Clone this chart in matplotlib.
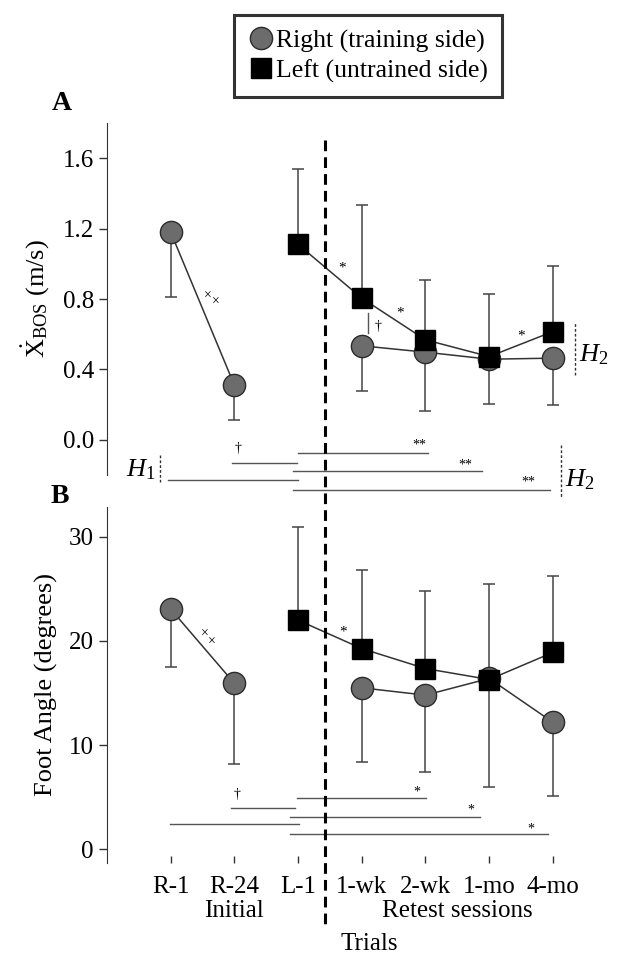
import matplotlib
matplotlib.use("Agg")
import matplotlib.pyplot as plt
from matplotlib.lines import Line2D

plt.rcParams['font.family'] = ['Liberation Serif', 'DejaVu Serif']
plt.rcParams['mathtext.fontset'] = 'custom'
plt.rcParams['mathtext.rm'] = 'Liberation Serif'
plt.rcParams['mathtext.it'] = 'Liberation Serif:italic'

# Trials (x positions 1..7)
trials = ["R-1", "R-24", "L-1", "1-wk", "2-wk", "1-mo", "4-mo"]
x_right_init = [1, 2]
x_left = [3, 4, 5, 6, 7]
x_right_ret = [4, 5, 6, 7]

# Panel A: XBOS (m/s)
a_right_init = [1.18, 0.31]
a_right_init_lo = [0.81, 0.11]
a_right_ret = [0.534, 0.498, 0.458, 0.464]
a_right_ret_lo = [0.278, 0.165, 0.205, 0.200]
a_left = [1.11, 0.805, 0.568, 0.473, 0.615]
a_left_hi = [1.54, 1.335, 0.909, 0.828, 0.99]

# Panel B: Foot angle (degrees)
b_right_init = [23.06, 15.93]
b_right_init_lo = [17.5, 8.16]
b_right_ret = [15.5, 14.8, 16.4, 12.19]
b_right_ret_lo = [8.35, 7.39, 6.0, 5.1]
b_left = [22.0, 19.27, 17.35, 16.3, 18.9]
b_left_hi = [30.96, 26.85, 24.8, 25.5, 26.25]

# significance brackets: (x_start, x_end, y, label, label_x, label_y)
a_brackets = [(1.96, 2.98, -0.129, "†", 2.05, -0.05),
              (0.96, 3.0, -0.227, "", 0, 0),
              (3.0, 5.04, -0.076, "**", 4.9, -0.03),
              (2.92, 5.89, -0.18, "**", 5.63, -0.145),
              (2.92, 6.95, -0.284, "**", 6.61, -0.24)]
b_brackets = [(1.94, 2.95, 3.99, "†", 2.04, 5.3),
              (0.99, 3.02, 2.40, "", 0, 0),
              (2.99, 5.01, 4.89, "*", 4.86, 5.5),
              (2.88, 5.86, 3.13, "*", 5.71, 3.75),
              (2.88, 6.92, 1.44, "*", 6.65, 1.9)]

gray = "#6c6c6c"
edge = "#2b2b2b"
linec = "#333333"
errc = "#444444"

fig = plt.figure(figsize=(6.21, 9.77), dpi=100)
axA = fig.add_axes([0.1723, 0.5138, 0.8206, 0.3603])
axB = fig.add_axes([0.1723, 0.1164, 0.8206, 0.365])


def draw_panel(ax, r_init, r_init_lo, r_ret, r_ret_lo, left, left_hi):
    # lower error bars for circles, upper for squares
    r_all_x = x_right_init + x_right_ret
    r_all = r_init + r_ret
    r_lo = r_init_lo + r_ret_lo
    ax.errorbar(r_all_x, r_all, yerr=[[v - lo for v, lo in zip(r_all, r_lo)], [0] * len(r_all)],
                fmt="none", ecolor=errc, elinewidth=1.1, capsize=4.5, capthick=1.1, zorder=1)
    ax.errorbar(x_left, left, yerr=[[0] * len(left), [hi - v for v, hi in zip(left, left_hi)]],
                fmt="none", ecolor=errc, elinewidth=1.1, capsize=4.5, capthick=1.1, zorder=1)
    ax.plot(x_right_init, r_init, color=linec, lw=1.1, zorder=2)
    ax.plot(x_right_ret, r_ret, color=linec, lw=1.1, zorder=2)
    ax.plot(x_left, left, color=linec, lw=1.1, zorder=2)
    ax.plot(r_all_x, r_all, "o", ms=16, mfc=gray, mec=edge, mew=1.0, ls="none", zorder=3)
    ax.plot(x_left, left, "s", ms=14, mfc="black", mec="black", ls="none", zorder=4)
    ax.set_xlim(0, 8)
    for s in ["top", "right", "bottom"]:
        ax.spines[s].set_visible(False)
    ax.spines["left"].set_color("#333333")
    ax.tick_params(axis="y", labelsize=18, length=6, width=1, color="#333333")


def draw_brackets(ax, brackets, fs):
    for x0, x1, y, lab, lx, ly in brackets:
        ax.plot([x0, x1], [y, y], color="#555555", lw=1.0, clip_on=False)
        if lab:
            ax.text(lx, ly, lab, fontsize=fs, ha="center", va="center", clip_on=False)


# Panel A
draw_panel(axA, a_right_init, a_right_init_lo, a_right_ret, a_right_ret_lo, a_left, a_left_hi)
axA.set_ylim(-0.2, 1.8)
axA.set_yticks([0.0, 0.4, 0.8, 1.2, 1.6])
axA.set_yticklabels(["0.0", "0.4", "0.8", "1.2", "1.6"])
axA.set_xticks([])
axA.set_ylabel(r"$\dot{\mathrm{X}}_{\mathrm{BOS}}$ (m/s)", fontsize=19, labelpad=8)
draw_brackets(axA, a_brackets, 10)
axA.text(1.586, 0.8125, "×", fontsize=10, ha="center", va="center")
axA.text(1.71, 0.778, "×", fontsize=10, ha="center", va="center")
for sx, sy in [(3.69, 0.977), (4.6, 0.72), (6.5, 0.59)]:
    axA.text(sx, sy, "*", fontsize=11, ha="center", va="center")
axA.plot([4.09, 4.09], [0.606, 0.723], color="#555555", lw=1.0)
axA.text(4.25, 0.644, "†", fontsize=10, ha="center", va="center")
# H1 / H2 markers
axA.plot([0.83, 0.83], [-0.085, -0.237], color="#333333", lw=1.0, ls=(0, (2, 1.5)), clip_on=False)
axA.text(0.77, -0.17, "$\\mathit{H}_1$", fontsize=19, ha="right", va="center", clip_on=False)
axA.plot([7.12, 7.12], [-0.028, -0.33], color="#333333", lw=1.0, ls=(0, (2, 1.5)), clip_on=False)
axA.text(7.19, -0.227, "$\\mathit{H}_2$", fontsize=19, ha="left", va="center", clip_on=False)
axA.plot([7.35, 7.35], [0.369, 0.667], color="#333333", lw=1.0, ls=(0, (2, 1.5)), clip_on=False)
axA.text(7.41, 0.483, "$\\mathit{H}_2$", fontsize=19, ha="left", va="center", clip_on=False)

# Panel B
draw_panel(axB, b_right_init, b_right_init_lo, b_right_ret, b_right_ret_lo, b_left, b_left_hi)
axB.set_ylim(-1.35, 32.9)
axB.set_yticks([0, 10, 20, 30])
axB.set_xticks(range(1, 8))
axB.set_xticklabels(trials)
axB.tick_params(axis="x", direction="in", length=5, width=1, color="#333333", labelsize=18, pad=9)
axB.set_ylabel("Foot Angle (degrees)", fontsize=19, labelpad=8)
draw_brackets(axB, b_brackets, 10)
axB.text(1.54, 20.66, "×", fontsize=10, ha="center", va="center")
axB.text(1.64, 19.9, "×", fontsize=10, ha="center", va="center")
axB.text(3.71, 20.88, "*", fontsize=11, ha="center", va="center")

# group labels
fig.text(234 / 621, 1 - 911 / 977, "Initial", fontsize=18, ha="center", va="center")
fig.text(457 / 621, 1 - 911 / 977, "Retest sessions", fontsize=18, ha="center", va="center")
fig.text(369 / 621, 1 - 944 / 977, "Trials", fontsize=18, ha="center", va="center")

# panel letters
fig.text(62 / 621, 1 - 104 / 977, "A", fontsize=20, fontweight="bold", ha="center", va="center")
fig.text(60 / 621, 1 - 497 / 977, "B", fontsize=20, fontweight="bold", ha="center", va="center")

# dashed divider across both panels
xd = fig.transFigure.inverted().transform(axA.transData.transform((3.43, 0)))[0]
fig.add_artist(Line2D([xd, xd], [1 - 140 / 977, 1 - 928 / 977], transform=fig.transFigure,
                      color="black", lw=2.2, ls=(0, (3.5, 2))))

# legend
handles = [Line2D([], [], marker="o", ls="none", ms=16, mfc=gray, mec=edge, mew=1.0),
           Line2D([], [], marker="s", ls="none", ms=14, mfc="black", mec="black")]
leg = fig.legend(handles, ["Right (training side)", "Left (untrained side)"],
                 loc="center", bbox_to_anchor=(368 / 621, 1 - 56 / 977), fontsize=18.5,
                 frameon=True, fancybox=False, handletextpad=0.1, handlelength=1.0,
                 borderpad=0.55, labelspacing=0.25, borderaxespad=0)
leg.get_frame().set_edgecolor("black")
leg.get_frame().set_linewidth(2.2)

fig.savefig("out.png", dpi=100)
